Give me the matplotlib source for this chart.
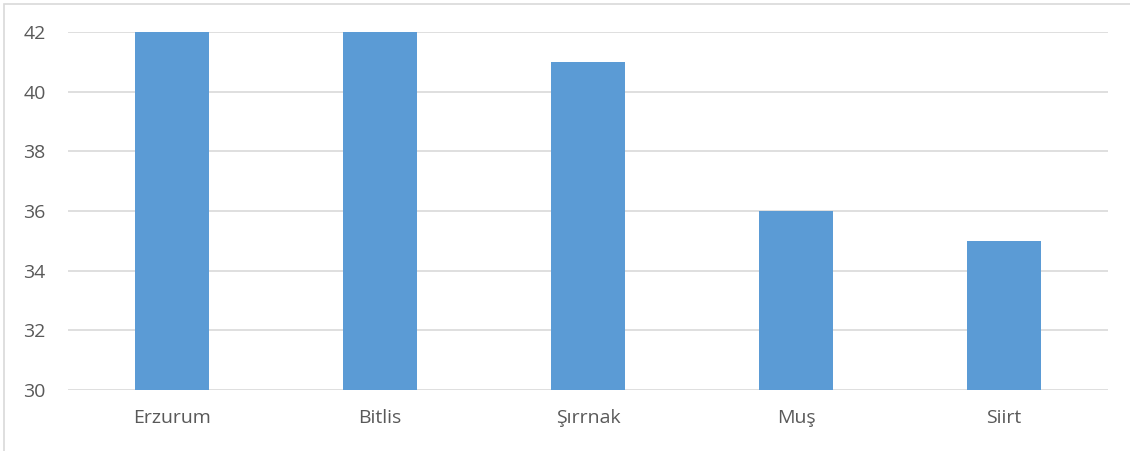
import matplotlib
matplotlib.use("Agg")
import matplotlib.pyplot as plt
from matplotlib.patches import Rectangle

categories = ["Erzurum", "Bitlis", "Şırrnak", "Muş", "Siirt"]
values = [42, 42, 41, 36, 35]
yticks = [30, 32, 34, 36, 38, 40, 42]

plt.rcParams['font.family'] = ['Open Sans', 'DejaVu Sans']

fig = plt.figure(figsize=(11.30, 4.51), dpi=100)
ax = fig.add_axes([68/1130, 1-390/451, 1040/1130, 358/451])

x = list(range(len(categories)))
ax.bar(x, values, width=0.355, color="#5B9BD5", zorder=3, bottom=0)
ax.set_xlim(-0.5, len(categories) - 0.5)
ax.set_ylim(30, 42)
ax.set_yticks(yticks)
ax.set_xticks(x)
ax.set_xticklabels(categories)
ax.grid(axis='y', color="#D9D9D9", linewidth=1.2, zorder=0)
for s in ax.spines.values():
    s.set_visible(False)
ax.tick_params(axis='both', length=0, labelsize=14, labelcolor="#595959")
ax.tick_params(axis='x', pad=14)
ax.tick_params(axis='y', pad=16)

fig.patches.append(Rectangle((4/1130, -0.1), 1.2, 1 - 3.5/451 + 0.1,
                             transform=fig.transFigure, fill=False,
                             edgecolor="#D9D9D9", linewidth=1.2))
fig.savefig("out.png", dpi=100)
